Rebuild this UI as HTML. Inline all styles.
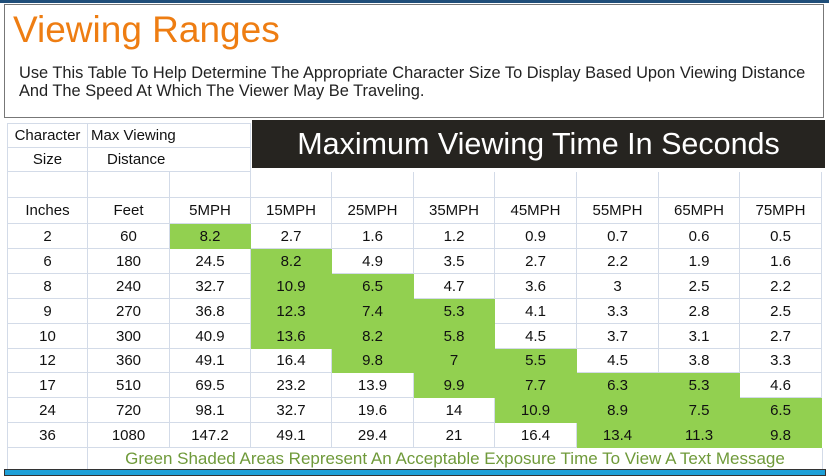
<!DOCTYPE html>
<html><head><meta charset="utf-8">
<style>
body{margin:0;width:829px;height:476px;background:#fff;position:relative;overflow:hidden;font-family:"Liberation Sans Narrow","Liberation Sans",sans-serif}
.c{position:absolute;box-sizing:border-box;display:flex;align-items:center;justify-content:center;font-size:15px;color:#111;border-right:1px solid #d3dbe8;border-bottom:1px solid #d3dbe8}
.g{background:#92d050;border-color:#92d050}
</style></head><body>
<div style="position:absolute;left:0;top:0;width:829px;height:3px;background:#1f4e79"></div>
<div style="position:absolute;left:4px;top:4px;width:820px;height:114px;border:1px solid #777;box-sizing:border-box"></div>
<div style="position:absolute;left:13px;top:9px;font-family:'Liberation Sans',sans-serif;font-size:37px;color:#ee7d12">Viewing Ranges</div>
<div style="position:absolute;left:19px;top:64px;font-family:'Liberation Sans',sans-serif;font-size:16.4px;line-height:18px;color:#222;white-space:nowrap">Use This Table To Help Determine The Appropriate Character Size To Display Based Upon Viewing Distance<br>And The Speed At Which The Viewer May Be Traveling.</div>
<div style="position:absolute;left:252px;top:120px;width:573px;height:48px;background:#262420;color:#fff;font-family:'Liberation Sans',sans-serif;font-size:30.5px;display:flex;align-items:center;justify-content:center">Maximum Viewing Time In Seconds</div>
<div id="t"></div>
<div style="position:absolute;left:88px;top:448px;width:734px;height:22px;display:flex;align-items:center;justify-content:center;font-size:17px;color:#6f9a3a;border-right:1px solid #d3dbe8;white-space:nowrap">Green Shaded Areas Represent An Acceptable Exposure Time To View A Text Message</div>
<div style="position:absolute;left:4px;top:469px;width:822px;height:7px;background:#1ea0d8;border:1px solid #333;box-sizing:border-box"></div>
<script>
const speeds=["5MPH","15MPH","25MPH","35MPH","45MPH","55MPH","65MPH","75MPH"];
const inches=["2","6","8","9","10","12","17","24","36"];
const feet=["60","180","240","270","300","360","510","720","1080"];
const times=[
["8.2","2.7","1.6","1.2","0.9","0.7","0.6","0.5"],
["24.5","8.2","4.9","3.5","2.7","2.2","1.9","1.6"],
["32.7","10.9","6.5","4.7","3.6","3","2.5","2.2"],
["36.8","12.3","7.4","5.3","4.1","3.3","2.8","2.5"],
["40.9","13.6","8.2","5.8","4.5","3.7","3.1","2.7"],
["49.1","16.4","9.8","7","5.5","4.5","3.8","3.3"],
["69.5","23.2","13.9","9.9","7.7","6.3","5.3","4.6"],
["98.1","32.7","19.6","14","10.9","8.9","7.5","6.5"],
["147.2","49.1","29.4","21","16.4","13.4","11.3","9.8"]];
const green=[[0],[1],[1,2],[1,2,3],[1,2,3],[2,3,4],[3,4,5,6],[4,5,6,7],[5,6,7]];
const t=document.getElementById('t');
const X=[7,88,170,251,332,414,495,577,659,740,822];
function cell(x0,x1,y,h,txt,cls,name){const d=document.createElement('div');
d.className='c '+(cls||'');


d.style.left=x0+'px';d.style.top=y+'px';d.style.width=(x1-x0)+'px';d.style.height=h+'px';d.textContent=txt;t.appendChild(d);return d;}
let a=cell(7,88,123,25,"Character","", 'char-size-header');a.style.borderLeft='1px solid #d3dbe8';a.style.borderTop='1px solid #d3dbe8';
a=cell(88,251,123,25,"Max Viewing","",'max-distance-header');a.style.justifyContent='flex-start';a.style.paddingLeft='3px';a.style.borderTop='1px solid #d3dbe8';
a=cell(7,88,148,24,"Size","",'size-header');a.style.borderLeft='1px solid #d3dbe8';
a=cell(88,251,148,24,"Distance","",'distance-header');a.style.justifyContent='flex-start';a.style.paddingLeft='19px';
for(let i=0;i<10;i++){a=cell(X[i],X[i+1],172,26,"","",'blank-cell');if(i==0)a.style.borderLeft='1px solid #d3dbe8';}
a=cell(7,88,198,26,"Inches","",'inches-header');a.style.borderLeft='1px solid #d3dbe8';
cell(88,170,198,26,"Feet","",'feet-header');
speeds.forEach((s,j)=>cell(X[j+2],X[j+3],198,26,s,"",'speed-header'));
const RH=24.9;
inches.forEach((v,r)=>{const y=Math.round(224+r*RH),h=Math.round(224+(r+1)*RH)-y;
a=cell(7,88,y,h,v,"",'inches-cell');a.style.borderLeft='1px solid #d3dbe8';
cell(88,170,y,h,feet[r],"",'feet-cell');
times[r].forEach((tv,j)=>cell(X[j+2],X[j+3],y,h,tv,green[r].includes(j)?'g':'','time-cell'));});
a=cell(7,88,448,22,"","",'footer-blank');a.style.borderLeft='1px solid #d3dbe8';
</script>
</body></html>
